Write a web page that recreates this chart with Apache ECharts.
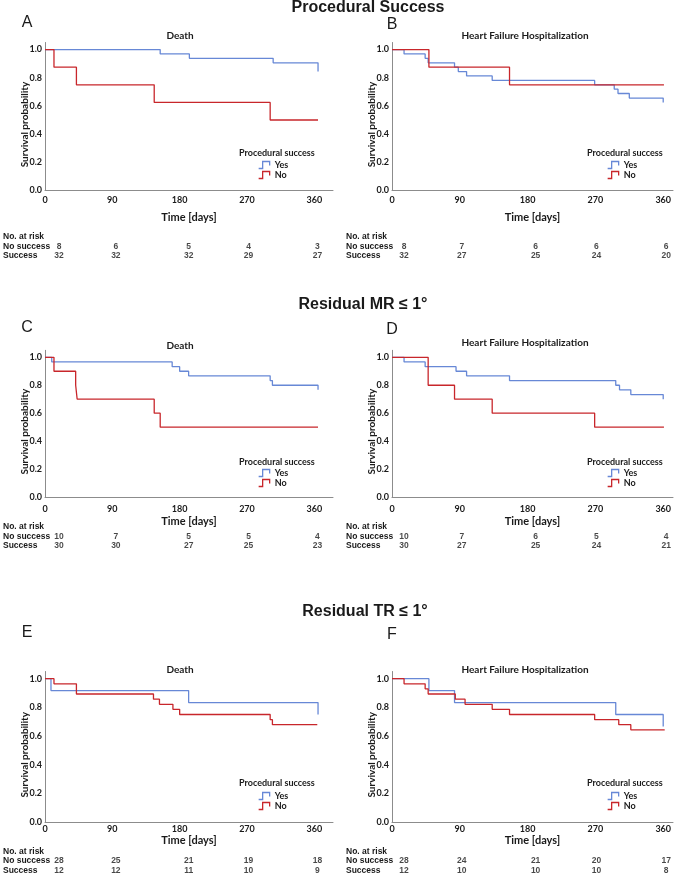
<!DOCTYPE html>
<html>
<head>
<meta charset="utf-8">
<script src="https://cdn.jsdelivr.net/npm/echarts@6/dist/echarts.min.js"></script>
<style>
  html, body { margin: 0; padding: 0; background: #fff; }
  #chart { width: 680px; height: 875px; }
</style>
</head>
<body>
<div id="chart"></div>
<script>
/* Kaplan-Meier panels (death / HF hospitalization) by procedural success,
   residual MR and residual TR, each with its number-at-risk table. */

var TICK_DAYS = [0, 90, 180, 270, 360];
var RISK_ROWS = ['No. at risk', 'No success', 'Success'];

// A - procedural success, death
var A_YES_DAYS = [0, 154, 193, 305, 365];
var A_YES_SURV = [1, 0.969, 0.938, 0.906, 0.844];
var A_NO_DAYS  = [0, 12, 42, 146, 301, 365];
var A_NO_SURV  = [1, 0.875, 0.75, 0.625, 0.5, 0.5];
var A_RISK_NO  = [8, 6, 5, 4, 3];
var A_RISK_YES = [32, 32, 32, 29, 27];

// B - procedural success, HF hospitalization
var B_YES_DAYS = [0, 16, 44, 48, 83, 88, 99, 133, 269, 295, 300, 315, 360];
var B_YES_SURV = [1, 0.969, 0.938, 0.906, 0.875, 0.844, 0.813, 0.781, 0.75, 0.719, 0.688, 0.656, 0.625];
var B_NO_DAYS  = [0, 49, 156, 361];
var B_NO_SURV  = [1, 0.875, 0.75, 0.75];
var B_RISK_NO  = [8, 7, 6, 6, 6];
var B_RISK_YES = [32, 27, 25, 24, 20];

// C - residual MR, death
var C_YES_DAYS = [0, 9, 170, 180, 192, 301, 304, 365];
var C_YES_SURV = [1, 0.967, 0.933, 0.9, 0.867, 0.833, 0.8, 0.767];
var C_NO_DAYS  = [0, 12, 41, 43, 146, 154, 365];
var C_NO_SURV  = [1, 0.9, 0.8, 0.7, 0.6, 0.5, 0.5];
var C_RISK_NO  = [10, 7, 5, 5, 4];
var C_RISK_YES = [30, 30, 27, 25, 23];

// D - residual MR, HF hospitalization
var D_YES_DAYS = [0, 16, 44, 85, 99, 156, 297, 302, 317, 360];
var D_YES_SURV = [1, 0.967, 0.933, 0.9, 0.867, 0.833, 0.8, 0.767, 0.733, 0.7];
var D_NO_DAYS  = [0, 48, 83, 133, 269, 361];
var D_NO_SURV  = [1, 0.8, 0.7, 0.6, 0.5, 0.5];
var D_RISK_NO  = [10, 7, 6, 5, 4];
var D_RISK_YES = [30, 27, 25, 24, 21];

// E - residual TR, death
var E_YES_DAYS = [0, 8, 192, 365];
var E_YES_SURV = [1, 0.917, 0.833, 0.75];
var E_NO_DAYS  = [0, 12, 42, 145, 153, 171, 180, 301, 304, 364];
var E_NO_SURV  = [1, 0.964, 0.893, 0.857, 0.821, 0.786, 0.75, 0.714, 0.679, 0.679];
var E_RISK_NO  = [28, 25, 21, 19, 18];
var E_RISK_YES = [12, 12, 11, 10, 9];

// F - residual TR, HF hospitalization
var F_YES_DAYS = [0, 49, 83, 297, 360];
var F_YES_SURV = [1, 0.917, 0.833, 0.75, 0.667];
var F_NO_DAYS  = [0, 16, 44, 48, 84, 97, 133, 156, 269, 301, 317, 362];
var F_NO_SURV  = [1, 0.964, 0.929, 0.893, 0.857, 0.821, 0.786, 0.75, 0.714, 0.679, 0.643, 0.643];
var F_RISK_NO  = [28, 24, 21, 20, 17];
var F_RISK_YES = [12, 10, 10, 10, 8];

var BLUE = '#6788d6', RED = '#c8262b', AXIS = '#8c8c8c', INK = '#1a1a1a';
var FC = 'Lato', FA = 'Liberation Sans';
var RISK_NUDGE = [12, 2, 8, 1, 3];
var STEP_ICON = 'path://M0,7H4V0H11V4';

// layout per column (left / right) and per row
var COLS = [
  { left: 45,  width: 288, xMax: 385, letterX: 27,  titleX: 180, legX: 239, iconX: 258, riskMargin: 44 },
  { left: 392, width: 281, xMax: 373, letterX: 392, titleX: 525, legX: 587, iconX: 607, riskMargin: 46 }
];
var ROWS = [
  { head: 'Procedural Success', headX: 368, headY: 8,  top: 42.5,  height: 148,   lm: 5, ng: 21, riskTop: 232.3, letterY: [23, 25],   titleY: [36, 36],   legY: 153, iconTop: 160 },
  { head: 'Residual MR \u2264 1\u00b0', headX: 363, headY: 305, top: 350.3, height: 146.7, lm: 8, ng: 19, riskTop: 522.3, letterY: [328, 330], titleY: [346, 343], legY: 462, iconTop: 468 },
  { head: 'Residual TR \u2264 1\u00b0', headX: 365, headY: 612, top: 671.5, height: 150.5, lm: 3, ng: 13, riskTop: 847.3, letterY: [633, 635], titleY: [670, 670], legY: 783, iconTop: 791 }
];

var PANELS = [
  { letter: 'A', title: 'Death', yes: [A_YES_DAYS, A_YES_SURV], no: [A_NO_DAYS, A_NO_SURV], rNo: A_RISK_NO, rYes: A_RISK_YES },
  { letter: 'B', title: 'Heart Failure Hospitalization', yes: [B_YES_DAYS, B_YES_SURV], no: [B_NO_DAYS, B_NO_SURV], rNo: B_RISK_NO, rYes: B_RISK_YES },
  { letter: 'C', title: 'Death', yes: [C_YES_DAYS, C_YES_SURV], no: [C_NO_DAYS, C_NO_SURV], rNo: C_RISK_NO, rYes: C_RISK_YES },
  { letter: 'D', title: 'Heart Failure Hospitalization', yes: [D_YES_DAYS, D_YES_SURV], no: [D_NO_DAYS, D_NO_SURV], rNo: D_RISK_NO, rYes: D_RISK_YES },
  { letter: 'E', title: 'Death', yes: [E_YES_DAYS, E_YES_SURV], no: [E_NO_DAYS, E_NO_SURV], rNo: E_RISK_NO, rYes: E_RISK_YES },
  { letter: 'F', title: 'Heart Failure Hospitalization', yes: [F_YES_DAYS, F_YES_SURV], no: [F_NO_DAYS, F_NO_SURV], rNo: F_RISK_NO, rYes: F_RISK_YES }
];

function pairs(arr) { return arr[0].map(function (d, i) { return [d, arr[1][i]]; }); }

// text placed by its vertical centre
function label(text, x, cy, size, family, weight, align) {
  return {
    text: text, left: x, top: cy - (size + 2) / 2, padding: 0, textAlign: align || 'center',
    textStyle: { fontFamily: family, fontSize: size, fontWeight: weight, color: INK, lineHeight: size + 2 }
  };
}

var grids = [], xAxes = [], yAxes = [], series = [], titles = [], legends = [];

ROWS.forEach(function (r) { titles.push(label(r.head, r.headX, r.headY, 16, FA, 'bold')); });

PANELS.forEach(function (p, i) {
  var c = COLS[i % 2], r = ROWS[Math.floor(i / 2)], side = i % 2;

  titles.push(label(p.letter, c.letterX, r.letterY[side], 16, FA, 'normal'));
  titles.push(label(p.title, c.titleX, r.titleY[side], 10, FC, 'bold'));
  titles.push(label('Procedural success', c.legX, r.legY, 9, FC, 'bold', 'left'));

  legends.push({
    orient: 'vertical', left: c.iconX, top: r.iconTop, padding: 0, itemGap: 0,
    itemWidth: 11, itemHeight: 7, selectedMode: false,
    textStyle: { fontFamily: FC, fontWeight: 'bold', fontSize: 9, color: INK, lineHeight: 10 },
    data: [
      { name: 'Yes', icon: STEP_ICON, itemStyle: { color: 'transparent', borderColor: BLUE, borderWidth: 1.3 } },
      { name: 'No',  icon: STEP_ICON, itemStyle: { color: 'transparent', borderColor: RED,  borderWidth: 1.3 } }
    ]
  });

  // survival plot
  grids.push({ left: c.left, top: r.top, width: c.width, height: r.height });
  xAxes.push({
    type: 'value', gridIndex: i, min: 0, max: c.xMax, interval: 90,
    name: 'Time [days]', nameLocation: 'middle', nameGap: r.ng, nameMoveOverlap: false,
    nameTextStyle: { fontFamily: FC, fontWeight: 'bold', fontSize: 11, color: INK },
    axisLine: { lineStyle: { color: AXIS, width: 1 } }, axisTick: { show: false }, splitLine: { show: false },
    axisLabel: {
      margin: r.lm, fontFamily: FC, fontWeight: 'bold', fontSize: 9, color: INK,
      formatter: function (v) { return TICK_DAYS.indexOf(v) >= 0 ? String(v) : ''; }
    }
  });
  yAxes.push({
    type: 'value', gridIndex: i, min: 0, max: 1.05, interval: 0.2,
    name: 'Survival probability', nameLocation: 'middle', nameGap: 15, nameMoveOverlap: false,
    nameTextStyle: { fontFamily: FC, fontWeight: 'bold', fontSize: 10, color: INK, padding: [0, 16, 0, 0] },
    axisLine: { show: true, lineStyle: { color: AXIS, width: 1 } }, axisTick: { show: false }, splitLine: { show: false },
    axisLabel: {
      margin: 3, fontFamily: FC, fontWeight: 'bold', fontSize: 9, color: INK,
      formatter: function (v) { var k = v * 5; return Math.abs(k - Math.round(k)) < 1e-6 ? v.toFixed(1) : ''; }
    }
  });
  series.push({
    name: 'Yes', type: 'line', xAxisIndex: i, yAxisIndex: i, step: 'end', showSymbol: false, symbol: 'none',
    lineStyle: { color: BLUE, width: 1.3 }, itemStyle: { color: BLUE }, emphasis: { disabled: true },
    data: pairs(p.yes)
  });
  series.push({
    name: 'No', type: 'line', xAxisIndex: i, yAxisIndex: i, step: 'end', showSymbol: false, symbol: 'none',
    lineStyle: { color: RED, width: 1.3 }, itemStyle: { color: RED }, emphasis: { disabled: true },
    data: pairs(p.no)
  });
});

// number-at-risk tables share the time scale of their plot
PANELS.forEach(function (p, i) {
  var c = COLS[i % 2], r = ROWS[Math.floor(i / 2)], gi = 6 + i;
  grids.push({ left: c.left, top: r.riskTop, width: c.width, height: 28.5 });
  xAxes.push({ type: 'value', gridIndex: gi, min: 0, max: c.xMax, show: false });
  yAxes.push({
    type: 'category', gridIndex: gi, data: RISK_ROWS, inverse: true,
    axisLine: { show: false }, axisTick: { show: false }, splitLine: { show: false },
    axisLabel: { interval: 0, hideOverlap: false, align: 'left', margin: c.riskMargin, fontFamily: FA, fontWeight: 'bold', fontSize: 8.5, color: INK }
  });
  [['No success', p.rNo], ['Success', p.rYes]].forEach(function (row) {
    series.push({
      name: 'risk-' + row[0], type: 'scatter', xAxisIndex: gi, yAxisIndex: gi,
      symbolSize: 1, itemStyle: { color: 'transparent' }, silent: true,
      label: {
        show: true, position: 'inside', fontFamily: FA, fontWeight: 'bold', fontSize: 8.5, color: INK,
        formatter: function (q) { return q.value[2]; }
      },
      data: TICK_DAYS.map(function (d, k) {
        return { value: [d, row[0], row[1][k]], label: { offset: [RISK_NUDGE[k], 0] } };
      })
    });
  });
});

var chart = echarts.init(document.getElementById('chart'), null, { renderer: 'canvas' });
chart.setOption({
  backgroundColor: '#ffffff',
  animation: false,
  title: titles,
  legend: legends,
  grid: grids,
  xAxis: xAxes,
  yAxis: yAxes,
  series: series
});
window.addEventListener('resize', function () { chart.resize(); });
</script>
</body>
</html>
